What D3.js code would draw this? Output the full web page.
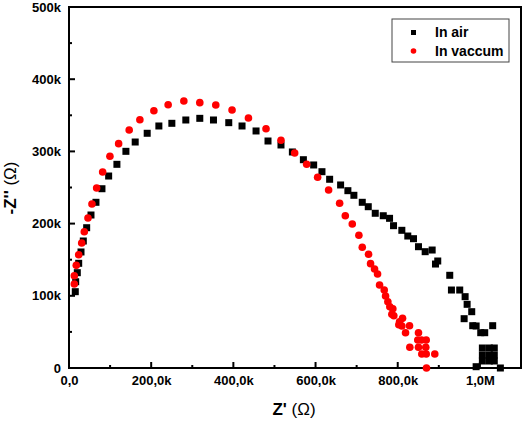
<!DOCTYPE html>
<html><head><meta charset="utf-8">
<script src="https://cdn.jsdelivr.net/npm/d3@7"></script>
<style>body{margin:0;background:#fff}svg{display:block}text{font-family:"Liberation Sans",Arial,sans-serif}</style>
</head><body><svg id="c" width="524" height="423"></svg>
<script>
// values in thousands of ohms
const airX = [15.3,16.3,20.2,23.6,29.2,34.8,43.0,53.5,65.6,80.2,96.5,116.6,138.5,161.1,190.3,218.7,250.3,284.3,318.3,351.6,388.8,421.1,455.2,484.3,515.9,543.6,570.4,595.4,615.6,634.3,661.0,678.7,693.3,713.7,728.3,745.3,764.8,780.1,789.8,810.0,824.5,838.4,850.5,866.8,883.8,897.4,891.9,926.6,930.7,950.9,964.0,968.9,980.1,961.6,982.5,990.8,1002.0,1011.7,1031.1,1006,1023,1035,1006,1023,1035,1006,1023,1035,990.8,1049.8];
const airY = [105.7,119.5,132.0,145.0,160.7,175.9,194.3,211.9,229.5,248.3,265.9,282.1,300.1,313.0,325.1,335.2,338.9,343.5,345.8,343.5,339.8,335.2,328.3,314.4,308.9,299.2,288.5,281.2,271.9,261.4,253.5,245.6,239.2,229.5,223.4,214.3,210.9,207.3,197.1,190.7,182.8,179.1,168.0,161.1,163.4,148.2,144.0,128.4,108.0,108.0,98.8,88.2,78.0,68.3,58.6,58.2,48.9,48.9,58.6,27.7,27.7,27.7,18.0,18.0,18.0,9.7,9.7,9.7,1.8,0];
const vacX = [12.9,12.9,17.7,23.6,30.9,37.2,46.2,55.9,67.3,81.9,99.6,120.8,146.5,172.5,206.6,241.3,279.5,318.3,357.2,396.8,436.7,479.5,515.9,549.2,578.4,605.1,631.8,658.6,672.4,689.4,705.5,713.7,729.0,733.9,743.6,750.9,755.8,767.2,770.4,776.0,780.8,788.1,785.7,790.5,811.7,804.4,802.7,810.0,828.7,819.0,850.5,848.8,857.8,869.3,829.4,850.5,868.3,858.6,869.3,890.2,870.0];
const vacY = [116.3,127.8,142.2,156.9,173.1,188.8,207.8,227.1,249.3,271.5,293.2,310.7,329.6,343.9,356.4,364.7,369.8,367.5,364.3,357.3,346.3,331.4,315.4,297.8,282.1,264.1,246.5,228.1,210.9,199.4,183.8,167.2,157.5,144.5,137.1,130.2,115.0,108.0,99.7,91.8,84.9,82.1,74.4,72.4,68.8,64.1,60.0,58.2,58.6,48.9,48.9,38.8,38.8,38.8,28.7,28.7,28.7,19.4,19.4,19.4,0];
const xTicks = [0,200,400,600,800,1000];
const xTickLabels = ["0,0","200,0k","400,0k","600,0k","800,0k","1,0M"];
const yTicks = [0,100,200,300,400,500];
const yTickLabels = ["0","100k","200k","300k","400k","500k"];
const seriesNames = ["In air","In vaccum"];

const svg = d3.select("#c");
const L=69, R=521, T=7, B=368;
const x = d3.scaleLinear().domain([0,1100]).range([L,R]);
const y = d3.scaleLinear().domain([0,500]).range([B,T]);

// frame
svg.append("rect").attr("x",L).attr("y",T).attr("width",R-L).attr("height",B-T)
  .attr("fill","none").attr("stroke","#000").attr("stroke-width",2);

// x axis
const xa = svg.append("g").attr("transform",`translate(0,${B})`)
  .call(d3.axisBottom(x).tickValues(xTicks).tickSize(0).tickPadding(8).tickFormat((d,i)=>xTickLabels[i]));
xa.select(".domain").remove();
xa.selectAll("text").attr("font-size",13).attr("font-weight","bold").attr("fill","#000");
const xMinor = d3.range(0,1101,100);
svg.selectAll(".xt").data(xMinor).join("line").attr("x1",d=>x(d)).attr("x2",d=>x(d))
  .attr("y1",B).attr("y2",d=>B-(d%200===0?6:3)).attr("stroke","#000").attr("stroke-width",2);

// y axis
const ya = svg.append("g").attr("transform",`translate(${L},0)`)
  .call(d3.axisLeft(y).tickValues(yTicks).tickSize(0).tickPadding(8).tickFormat((d,i)=>yTickLabels[i]));
ya.select(".domain").remove();
ya.selectAll("text").attr("font-size",13).attr("font-weight","bold").attr("fill","#000");
const yMinor = d3.range(0,501,50);
svg.selectAll(".yt").data(yMinor).join("line").attr("y1",d=>y(d)).attr("y2",d=>y(d))
  .attr("x1",L).attr("x2",d=>L+(d%100===0?6:3)).attr("stroke","#000").attr("stroke-width",2);

// data
const air = airX.map((v,i)=>[v,airY[i]]);
const vac = vacX.map((v,i)=>[v,vacY[i]]);
svg.append("g").selectAll("rect").data(air).join("rect")
  .attr("x",d=>x(d[0])-3.5).attr("y",d=>y(d[1])-3.5).attr("width",7).attr("height",7).attr("fill","#000");
svg.append("g").selectAll("circle").data(vac).join("circle")
  .attr("cx",d=>x(d[0])).attr("cy",d=>y(d[1])).attr("r",3.8).attr("fill","#ff0000");

// legend
const lg = svg.append("g");
lg.append("rect").attr("x",392).attr("y",19).attr("width",117).attr("height",43)
  .attr("fill","#fff").attr("stroke","#444").attr("stroke-width",1);
lg.append("rect").attr("x",411).attr("y",30).attr("width",5).attr("height",5).attr("fill","#000");
lg.append("circle").attr("cx",413.5).attr("cy",51).attr("r",2.8).attr("fill","#ff0000");
lg.append("text").attr("x",435).attr("y",37).attr("font-size",14).attr("font-weight","bold").text(seriesNames[0]);
lg.append("text").attr("x",435).attr("y",56).attr("font-size",14).attr("font-weight","bold").text(seriesNames[1]);

// axis titles
const xt = svg.append("text").attr("x",294).attr("y",415).attr("text-anchor","middle").attr("font-size",17);
xt.append("tspan").attr("font-weight","bold").text("Z' ");
xt.append("tspan").text("(Ω)");
const yt = svg.append("text").attr("transform","translate(16,188) rotate(-90)").attr("text-anchor","middle").attr("font-size",17);
yt.append("tspan").attr("font-weight","bold").text("-Z'' ");
yt.append("tspan").text("(Ω)");
</script></body></html>
